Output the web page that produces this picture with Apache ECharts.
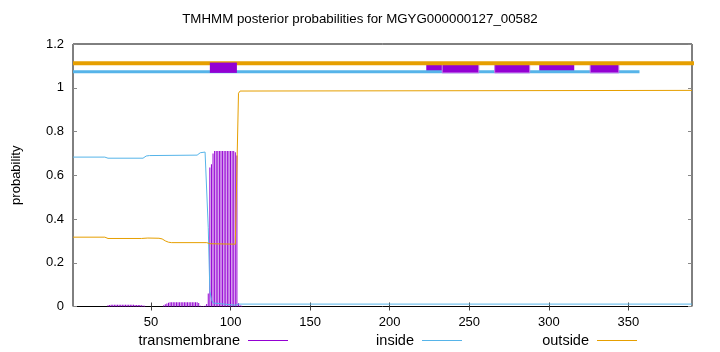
<!DOCTYPE html>
<html>
<head>
<meta charset="utf-8">
<script src="https://cdn.jsdelivr.net/npm/echarts@6/dist/echarts.min.js"></script>
<style>html,body{margin:0;padding:0;background:#fff}#c{width:720px;height:352px}</style>
</head>
<body>
<div id="c"></div>
<script>
// ---- data ----
const titleText = 'TMHMM posterior probabilities for MGYG000000127_00582';
const seriesNames = ['transmembrane', 'inside', 'outside'];
const xTickValues = [50, 100, 150, 200, 250, 300, 350];
const yTickValues = [0, 0.2, 0.4, 0.6, 0.8, 1, 1.2];
const xRange = [1, 390];

// posterior probability per residue (transmembrane drawn as impulses)
const transmembraneProb = [
  [23,0.006],[24,0.007],[25,0.008],[26,0.008],[27,0.008],[28,0.008],[29,0.008],[30,0.008],
  [31,0.008],[32,0.008],[33,0.008],[34,0.008],[35,0.008],[36,0.008],[37,0.008],[38,0.008],
  [39,0.008],[40,0.007],[41,0.007],[42,0.007],[43,0.007],[44,0.006],[45,0.005],[46,0.004],
  [58,0.006],[59,0.010],[60,0.014],[61,0.017],[62,0.019],[63,0.020],[64,0.020],[65,0.020],
  [66,0.020],[67,0.020],[68,0.020],[69,0.020],[70,0.020],[71,0.020],[72,0.020],[73,0.020],
  [74,0.020],[75,0.020],[76,0.020],[77,0.020],[78,0.020],[79,0.019],[80,0.016],
  [81,0.004],[82,0.002],[83,0.002],[84,0.004],[85,0.012],[86,0.060],
  [87,0.635],[88,0.650],[89,0.700],[90,0.711],[91,0.711],[92,0.711],[93,0.711],[94,0.711],
  [95,0.711],[96,0.711],[97,0.711],[98,0.711],[99,0.711],[100,0.711],[101,0.711],[102,0.711],
  [103,0.705],[104,0.690],[105,0.015],[106,0.006],[107,0.003]
];
const insideProb = [
  [1,0.683],[21,0.683],[23,0.678],[45,0.678],[46,0.682],[47,0.688],[49,0.690],[79,0.692],
  [80,0.696],[81,0.703],[82,0.706],[84,0.706],[85,0.700],[86,0.360],[87,0.070],[88,0.032],
  [89,0.016],[90,0.008],[103,0.006],[104,0.008],[105,0.011],[390,0.011]
];
const outsideProb = [
  [1,0.317],[21,0.317],[23,0.311],[44,0.311],[48,0.313],[55,0.312],[57,0.309],[59,0.300],
  [61,0.294],[63,0.292],[85,0.292],[86,0.290],[87,0.287],[88,0.285],[103,0.285],[104,0.290],
  [105,0.975],[106,0.985],[107,0.988],[390,0.988]
];

// predicted topology shown above the curves
const outsideTopLevel = 1.112;
const insideTopLevel = 1.073;
const outsideSegments = [[1, 414]];
const insideSegments = [[1, 357]];
const helixSegments = [[87,104],[223,233],[233,256],[266,288],[294,316],[326,344]];
const helixLow = 1.068;
const helixHigh = 1.115;

// ---- styling / layout ----
const helixLayer = [3, 1, 2, 2, 1, 2]; // drawing layer of each helix box
const C_TM = '#9400d3', C_IN = '#56b4e9', C_OUT = '#e69f00';
const FONT = "'Liberation Sans', Arial, Helvetica, sans-serif";

function segLine(segs, level) {
  const out = [];
  segs.forEach((s, i) => {
    if (i > 0) out.push([null, null]);
    out.push([s[0], level], [s[1], level]);
  });
  return out;
}
function boxSeries(layer, z) {
  const data = helixSegments
    .map((s, i) => [s[0], s[1], helixLow, helixHigh, helixLayer[i]])
    .filter(d => d[4] === layer);
  return {
    type: 'custom', name: 'helix' + layer, z: z, silent: true,
    data: data,
    renderItem: function (params, api) {
      const p0 = api.coord([api.value(0), api.value(3)]);
      const p1 = api.coord([api.value(1), api.value(2)]);
      return {
        type: 'rect',
        shape: { x: p0[0], y: p0[1], width: p1[0] - p0[0], height: p1[1] - p0[1] },
        style: { fill: C_TM, stroke: layer === 2 ? '#c77ee8' : null, lineWidth: layer === 2 ? 1 : 0 }
      };
    }
  };
}

const chart = echarts.init(document.getElementById('c'), null, { renderer: 'canvas' });
const legendBase = {
  orient: 'horizontal', align: 'right', icon: 'rect', itemWidth: 40, itemHeight: 1,
  top: 333, padding: 0, selectedMode: false,
  textStyle: { fontFamily: FONT, fontSize: 14.5, color: '#000', padding: [0, 3, 0, 0] }
};
chart.setOption({
  animation: false,
  backgroundColor: '#fff',
  title: {
    text: titleText, left: 'center', top: 13, padding: 0,
    textStyle: { fontFamily: FONT, fontSize: 13.3, fontWeight: 'normal', color: '#000' }
  },
  legend: [
    Object.assign({}, legendBase, { data: [seriesNames[0]], right: 432 }),
    Object.assign({}, legendBase, { data: [seriesNames[1]], right: 258 }),
    Object.assign({}, legendBase, { data: [seriesNames[2]], right: 83 })
  ],
  grid: { left: 73, right: 28, top: 44, bottom: 45.5, show: true, borderColor: '#000', borderWidth: 1, backgroundColor: 'transparent' },
  xAxis: [{
    type: 'value', min: xRange[0], max: xRange[1],
    axisLine: { show: false },
    splitLine: { show: false },
    axisTick: { inside: true, length: 4, lineStyle: { color: '#444' }, customValues: xTickValues },
    axisLabel: { customValues: xTickValues, margin: 9, fontFamily: FONT, fontSize: 13, color: '#000' }
  }, {
    type: 'value', position: 'top', min: xRange[0], max: xRange[1],
    axisLine: { show: false }, splitLine: { show: false },
    axisTick: { inside: true, length: 4, lineStyle: { color: '#444' }, customValues: xTickValues },
    axisLabel: { show: false }
  }],
  yAxis: [{
    type: 'value', min: 0, max: 1.2, interval: 0.2,
    name: 'probability', nameLocation: 'middle', nameRotate: 90, nameGap: 50,
    nameTextStyle: { fontFamily: FONT, fontSize: 13, color: '#000' },
    axisLine: { show: false }, splitLine: { show: false },
    axisTick: { inside: true, length: 4, lineStyle: { color: '#888' } },
    axisLabel: { margin: 9, fontFamily: FONT, fontSize: 13, color: '#000',
      formatter: v => { const t = yTickValues.find(y => Math.abs(y - v) < 1e-9); return t === undefined ? '' : String(t); } }
  }, {
    type: 'value', position: 'right', min: 0, max: 1.2, interval: 0.2,
    axisLine: { show: false }, splitLine: { show: false },
    axisTick: { inside: true, length: 4, lineStyle: { color: '#888' } },
    axisLabel: { show: false }
  }],
  series: [
    {
      name: seriesNames[0], type: 'bar', data: transmembraneProb, barWidth: 1,
      itemStyle: { color: C_TM }, z: 2, silent: true
    },
    {
      name: seriesNames[1], type: 'line', data: insideProb, symbol: 'none',
      lineStyle: { color: C_IN, width: 1 }, itemStyle: { color: C_IN }, z: 3, silent: true
    },
    {
      name: seriesNames[2], type: 'line', data: outsideProb, symbol: 'none',
      lineStyle: { color: C_OUT, width: 1 }, itemStyle: { color: C_OUT }, z: 4, silent: true
    },
    boxSeries(1, 5),
    {
      name: 'insideTop', type: 'line', data: segLine(insideSegments, insideTopLevel), symbol: 'none',
      connectNulls: false, clip: false, lineStyle: { color: C_IN, width: 3 }, z: 6, silent: true
    },
    boxSeries(2, 7),
    {
      name: 'outsideTop', type: 'line', data: segLine(outsideSegments, outsideTopLevel), symbol: 'none',
      clip: false, lineStyle: { color: C_OUT, width: 4 }, z: 8, silent: true
    },
    boxSeries(3, 9)
  ]
});
</script>
</body>
</html>
